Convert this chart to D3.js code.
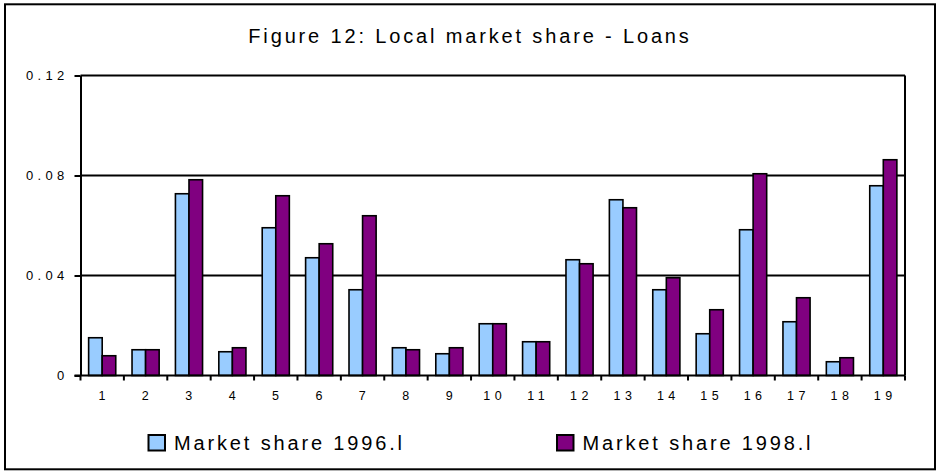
<!DOCTYPE html>
<html>
<head>
<meta charset="utf-8">
<script src="https://cdn.jsdelivr.net/npm/d3@7"></script>
<style>
  body { margin: 0; background: #fff; }
  text { font-family: "Liberation Sans", Arial, sans-serif; fill: #000; }
</style>
</head>
<body>
<script>
// data
var categories = ["1","2","3","4","5","6","7","8","9","10","11","12","13","14","15","16","17","18","19"];
var share1996 = [0.0151,0.0103,0.0727,0.0095,0.0591,0.0471,0.0343,0.0111,0.0087,0.0207,0.0135,0.0463,0.0703,0.0343,0.0167,0.0583,0.0215,0.0055,0.0759];
var share1998 = [0.0079,0.0103,0.0783,0.0111,0.0719,0.0527,0.0639,0.0103,0.0111,0.0207,0.0135,0.0447,0.0671,0.0391,0.0263,0.0807,0.0311,0.0071,0.0863];
var seriesNames = ["Market share 1996.l", "Market share 1998.l"];
var yTicks = [0, 0.04, 0.08, 0.12];
var colors = ["#99ccff", "#800080"];

var W = 936, H = 471;
var svg = d3.select("body").append("svg")
    .attr("width", W)
    .attr("height", H);

// outer frame
svg.append("rect")
    .attr("x", 5).attr("y", 4.3)
    .attr("width", 930).attr("height", 465)
    .attr("fill", "none").attr("stroke", "#000").attr("stroke-width", 2);

// title
svg.append("text")
    .attr("x", 470).attr("y", 42.5)
    .attr("text-anchor", "middle")
    .style("font-size", "20px")
    .style("letter-spacing", "2.85px")
    .text("Figure 12: Local market share - Loans");

// scales
var x = d3.scaleBand().domain(categories).range([80.5, 905]).padding(0);
var xs = d3.scaleBand().domain([0, 1]).range([0, x.bandwidth()]).paddingInner(0).paddingOuter(0.6);
var y = d3.scaleLinear().domain([0, 0.12]).range([375.5, 75.5]);

// gridlines
svg.append("g").selectAll("line")
    .data(yTicks.filter(function (d) { return d > 0; }))
    .enter().append("line")
    .attr("x1", 80.5).attr("x2", 905)
    .attr("y1", function (d) { return y(d); })
    .attr("y2", function (d) { return y(d); })
    .attr("stroke", "#000").attr("stroke-width", 2);

// right border of plot
svg.append("line")
    .attr("x1", 905).attr("x2", 905)
    .attr("y1", y(0.12)).attr("y2", y(0))
    .attr("stroke", "#000").attr("stroke-width", 2);

// bars
var rows = categories.map(function (c, i) { return { cat: c, vals: [share1996[i], share1998[i]] }; });
var groups = svg.append("g").selectAll("g")
    .data(rows)
    .enter().append("g")
    .attr("transform", function (d) { return "translate(" + x(d.cat) + ",0)"; });

groups.selectAll("rect")
    .data(function (d) { return d.vals.map(function (v, k) { return { k: k, v: v }; }); })
    .enter().append("rect")
    .attr("x", function (d) { return xs(d.k); })
    .attr("width", xs.bandwidth())
    .attr("y", function (d) { return y(d.v); })
    .attr("height", function (d) { return y(0) - y(d.v); })
    .attr("fill", function (d) { return colors[d.k]; })
    .attr("stroke", "#000").attr("stroke-width", 1.6);

// y axis
var yAxis = svg.append("g")
    .attr("transform", "translate(80.5,0)")
    .call(d3.axisLeft(y).tickValues(yTicks).tickSize(6).tickSizeOuter(0)
        .tickFormat(function (d) { return d === 0 ? "0" : d3.format(".2f")(d); }));
yAxis.select(".domain").attr("stroke", "#000").attr("stroke-width", 2);
yAxis.selectAll(".tick line").attr("stroke", "#000").attr("stroke-width", 2);
yAxis.selectAll(".tick text")
    .attr("x", -12)
    .style("font-size", "13px")
    .style("letter-spacing", "4.3px")
    .style("font-family", "'Liberation Sans', Arial, sans-serif");

// x axis line
svg.append("line")
    .attr("x1", 74.5).attr("x2", 905)
    .attr("y1", y(0)).attr("y2", y(0))
    .attr("stroke", "#000").attr("stroke-width", 2);

// x ticks at category boundaries
var bounds = categories.map(function (c) { return x(c); }).concat([x.range()[1]]);
svg.append("g").selectAll("line")
    .data(bounds)
    .enter().append("line")
    .attr("x1", function (d) { return d; }).attr("x2", function (d) { return d; })
    .attr("y1", y(0)).attr("y2", y(0) + 5)
    .attr("stroke", "#000").attr("stroke-width", 2);

// x labels
svg.append("g").selectAll("text")
    .data(categories)
    .enter().append("text")
    .attr("x", function (d) { return x(d) + x.bandwidth() / 2 + 2; })
    .attr("y", 399.5)
    .attr("text-anchor", "middle")
    .style("font-size", "12.5px")
    .style("letter-spacing", "4.5px")
    .text(function (d) { return d; });

// legend
var legendX = [148.5, 557];
var legend = svg.append("g").selectAll("g")
    .data(seriesNames)
    .enter().append("g")
    .attr("transform", function (d, i) { return "translate(" + legendX[i] + ",435)"; });

legend.append("rect")
    .attr("width", 16.5).attr("height", 15.5)
    .attr("fill", function (d, i) { return colors[i]; })
    .attr("stroke", "#000").attr("stroke-width", 2);

legend.append("text")
    .attr("x", 25.5).attr("y", 15)
    .style("font-size", "20px")
    .style("letter-spacing", "2.85px")
    .text(function (d) { return d; });
</script>
</body>
</html>
